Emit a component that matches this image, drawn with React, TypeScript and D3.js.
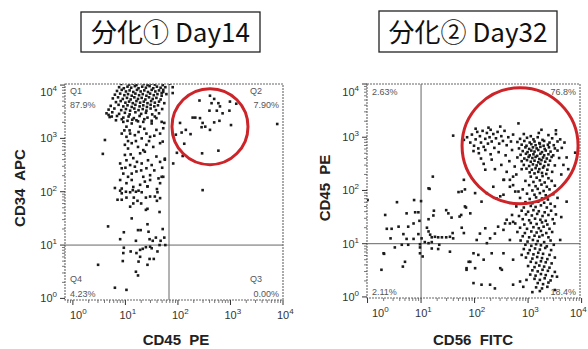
import * as d3 from 'd3';

type Pt = [number, number];

// all values are log10 of fluorescence intensity: [x, y]

// Day14: CD45 PE (x) vs CD34 APC (y)
const day14Top: Pt[] = [
  [0.92, 4.02], [1.0, 4.04], [1.07, 4.01], [1.14, 4.03], [1.21, 4.0], [1.28, 4.04], [1.35, 4.02], [1.42, 4.0], [1.49, 4.03], [1.56, 4.01], [1.63, 4.04], [1.71, 4.0], [1.85, 4.03],
  [0.88, 3.96], [0.97, 3.94], [1.04, 3.97], [1.11, 3.95], [1.18, 3.98], [1.25, 3.94], [1.32, 3.97], [1.39, 3.95], [1.46, 3.98], [1.53, 3.94], [1.6, 3.97], [1.67, 3.95], [1.76, 3.96],
  [0.84, 3.89], [0.93, 3.91], [1.01, 3.88], [1.08, 3.9], [1.15, 3.87], [1.22, 3.91], [1.29, 3.88], [1.36, 3.9], [1.43, 3.87], [1.5, 3.91], [1.57, 3.88], [1.64, 3.9], [1.72, 3.87],
  [0.8, 3.82], [0.9, 3.84], [0.98, 3.81], [1.05, 3.83], [1.12, 3.8], [1.19, 3.84], [1.26, 3.81], [1.33, 3.83], [1.4, 3.8], [1.47, 3.84], [1.54, 3.81], [1.61, 3.83], [1.69, 3.8], [1.78, 3.83],
  [0.76, 3.75], [0.86, 3.77], [0.95, 3.74], [1.03, 3.76], [1.1, 3.73], [1.17, 3.77], [1.24, 3.74], [1.31, 3.76], [1.38, 3.73], [1.45, 3.77], [1.52, 3.74], [1.59, 3.76], [1.67, 3.73],
  [0.82, 3.68], [0.91, 3.7], [1.0, 3.67], [1.07, 3.69], [1.14, 3.66], [1.21, 3.7], [1.28, 3.67], [1.35, 3.69], [1.42, 3.66], [1.49, 3.7], [1.56, 3.67], [1.64, 3.69], [1.74, 3.66],
  [0.72, 3.61], [0.87, 3.63], [0.96, 3.6], [1.04, 3.62], [1.12, 3.59], [1.19, 3.63], [1.27, 3.6], [1.34, 3.62], [1.41, 3.59], [1.48, 3.63], [1.55, 3.6], [1.62, 3.62],
  [0.68, 3.54], [0.79, 3.56], [0.92, 3.53], [1.01, 3.55], [1.09, 3.52], [1.17, 3.56], [1.25, 3.53], [1.33, 3.55], [1.4, 3.52], [1.48, 3.56], [1.58, 3.53], [1.7, 3.55],
  [0.64, 3.47], [0.75, 3.49], [0.88, 3.46], [0.99, 3.48], [1.08, 3.45], [1.19, 3.49], [1.3, 3.46], [1.39, 3.48], [1.51, 3.45], [1.64, 3.47],
  [0.7, 3.4], [0.84, 3.42], [0.96, 3.39], [1.06, 3.41], [1.16, 3.38], [1.27, 3.42], [1.42, 3.39], [1.56, 3.41],
  [0.82, 3.34], [0.93, 3.36], [1.04, 3.33], [1.13, 3.35], [1.24, 3.32], [1.36, 3.36], [1.5, 3.33],
];

const day14Tail: Pt[] = [
  [0.96, 3.31], [1.02, 3.22], [1.12, 3.28], [1.21, 3.34], [1.34, 3.31], [1.5, 3.28], [1.59, 3.38], [1.69, 3.31],
  [0.93, 3.09], [1.02, 3.03], [1.09, 3.09], [1.18, 3.06], [1.31, 3.0], [1.4, 3.09], [1.47, 3.03], [1.59, 3.16], [1.66, 3.09], [1.72, 3.19],
  [0.99, 2.88], [1.05, 2.81], [1.12, 2.91], [1.24, 2.84], [1.34, 2.78], [1.4, 2.88], [1.53, 2.84], [1.66, 2.91],
  [0.99, 2.69], [1.02, 2.59], [1.15, 2.63], [1.28, 2.72], [1.37, 2.75], [1.43, 2.59], [1.59, 2.66],
  [0.9, 2.53], [0.93, 2.44], [1.09, 2.5], [1.18, 2.47], [1.31, 2.53], [1.4, 2.44], [1.5, 2.5], [1.66, 2.56],
  [0.96, 2.34], [1.05, 2.28], [1.12, 2.34], [1.21, 2.38], [1.34, 2.28], [1.47, 2.31], [1.63, 2.25], [1.69, 2.28],
  [0.9, 2.22], [1.02, 2.16], [1.12, 2.22], [1.15, 2.09], [1.28, 2.13], [1.37, 2.19], [1.47, 2.22], [0.93, 2.06], [1.66, 2.16],
  [1.08, 3.15], [1.25, 3.12], [1.36, 3.18], [1.55, 3.05], [1.2, 2.95], [1.45, 2.95], [1.1, 2.7], [1.22, 2.56], [1.55, 2.4],
  [1.3, 2.4], [1.0, 2.45], [1.42, 2.1], [1.6, 2.05], [1.25, 2.02], [1.7, 2.45], [1.75, 2.62], [1.05, 2.95], [0.98, 3.15], [1.28, 3.22],
  [0.61, 2.97], [0.57, 2.71], [0.74, 3.41], [0.68, 3.44],
  [1.72, 3.91], [1.69, 3.85], [1.74, 3.29], [1.71, 2.94], [1.75, 2.6], [1.72, 2.28],
];

const day14Low: Pt[] = [
  [0.8, 2.07], [0.9, 2.02], [0.93, 1.97], [1.01, 2.0], [1.09, 1.99], [1.14, 2.03], [1.2, 2.0], [1.31, 1.99], [1.42, 2.1], [1.61, 1.99],
  [0.85, 1.85], [0.93, 1.85], [1.02, 1.89], [1.16, 1.89], [1.23, 1.83], [1.39, 1.89], [1.47, 1.91], [1.56, 1.91], [1.6, 1.83], [1.66, 1.88],
  [1.09, 1.72], [1.15, 1.78], [1.3, 1.78], [1.39, 1.66], [1.42, 1.68], [1.65, 1.62], [1.12, 1.5],
  [0.67, 1.35], [0.9, 1.11], [0.97, 1.24], [1.2, 1.08], [1.24, 1.28], [1.29, 1.28], [1.42, 1.39], [1.44, 1.25], [1.46, 1.11],
  [1.58, 1.14], [1.71, 1.3], [1.74, 1.14], [1.67, 1.08], [1.52, 1.08],
  [0.97, 0.95], [0.96, 0.85], [1.1, 0.88], [1.28, 0.91], [1.33, 0.93], [1.39, 0.96], [1.47, 0.97], [1.5, 0.94], [1.65, 1.0],
  [1.61, 0.88], [1.76, 1.0], [1.21, 0.85], [1.28, 0.78], [1.46, 0.74], [1.54, 0.74], [0.95, 0.7], [1.25, 0.69], [1.42, 0.63],
  [0.48, 0.63], [1.2, 0.5], [1.24, 0.43], [0.8, 0.2], [1.02, 0.16],
];

const day14Q2: Pt[] = [
  [1.9, 3.96], [1.9, 3.85], [2.41, 3.71], [2.61, 3.8], [2.69, 3.74], [2.64, 3.66], [2.77, 3.66], [2.8, 3.6], [2.99, 3.69],
  [3.11, 3.65], [2.6, 3.52], [2.74, 3.52], [2.85, 3.47], [2.98, 3.52], [2.28, 3.39], [2.33, 3.39], [2.42, 3.38], [2.04, 3.29],
  [2.47, 3.29], [2.45, 3.21], [2.52, 3.22], [2.69, 3.3], [2.79, 3.33], [3.01, 3.25], [2.61, 3.16], [2.15, 3.16], [2.07, 3.11],
  [2.24, 3.08], [1.96, 3.07], [2.12, 2.9], [1.98, 2.73], [2.09, 2.67], [2.46, 2.72], [2.77, 2.77], [3.89, 3.27], [1.91, 2.53],
  [2.47, 2.03],
];

// Day32: CD56 FITC (x) vs CD45 PE (y)
const day32Core: Pt[] = [
  [2.92, 3.06], [3.05, 3.02], [3.2, 3.08], [3.38, 3.04], [3.52, 3.06],
  [2.85, 2.97], [2.98, 2.99], [3.1, 2.96], [3.18, 3.0], [3.27, 2.95], [3.45, 2.98], [3.6, 2.96],
  [2.8, 2.91], [2.93, 2.93], [3.03, 2.9], [3.12, 2.92], [3.21, 2.89], [3.3, 2.93], [3.4, 2.9], [3.55, 2.92],
  [2.88, 2.86], [2.97, 2.84], [3.06, 2.87], [3.14, 2.85], [3.22, 2.88], [3.29, 2.84], [3.37, 2.86], [3.48, 2.85],
  [2.83, 2.79], [2.95, 2.81], [3.02, 2.78], [3.09, 2.81], [3.16, 2.79], [3.23, 2.82], [3.31, 2.78], [3.39, 2.81], [3.5, 2.79], [3.63, 2.8],
  [2.9, 2.74], [2.99, 2.72], [3.06, 2.75], [3.12, 2.73], [3.19, 2.76], [3.26, 2.72], [3.33, 2.75], [3.42, 2.73], [3.55, 2.75],
  [2.86, 2.67], [2.96, 2.69], [3.03, 2.66], [3.1, 2.68], [3.17, 2.65], [3.23, 2.69], [3.3, 2.66], [3.38, 2.68], [3.47, 2.66],
  [2.8, 2.62], [2.93, 2.6], [3.01, 2.63], [3.08, 2.61], [3.14, 2.63], [3.21, 2.59], [3.28, 2.62], [3.35, 2.6], [3.44, 2.63], [3.58, 2.61],
  [2.88, 2.55], [2.98, 2.57], [3.05, 2.54], [3.12, 2.56], [3.19, 2.53], [3.25, 2.57], [3.32, 2.54], [3.41, 2.56],
  [2.92, 2.48], [3.02, 2.46], [3.09, 2.49], [3.16, 2.47], [3.23, 2.5], [3.3, 2.46], [3.38, 2.48], [3.5, 2.47],
  [2.97, 2.41], [3.07, 2.39], [3.14, 2.42], [3.21, 2.4], [3.28, 2.43], [3.36, 2.39],
  [3.03, 2.34], [3.12, 2.32], [3.19, 2.35], [3.26, 2.33], [3.34, 2.31], [3.45, 2.35],
];

const day32Column: Pt[] = [
  [3.05, 2.26], [3.16, 2.24], [3.27, 2.27], [3.38, 2.23],
  [2.95, 2.18], [3.1, 2.16], [3.22, 2.19], [3.31, 2.15], [3.44, 2.18],
  [3.02, 2.1], [3.14, 2.08], [3.25, 2.11], [3.35, 2.07], [3.5, 2.09],
  [2.9, 2.02], [3.08, 2.0], [3.18, 2.03], [3.29, 1.99], [3.4, 2.02],
  [2.98, 1.94], [3.12, 1.92], [3.22, 1.95], [3.33, 1.91], [3.47, 1.93],
  [2.85, 1.86], [3.03, 1.84], [3.15, 1.87], [3.26, 1.85], [3.37, 1.83], [3.55, 1.86],
  [2.95, 1.78], [3.08, 1.76], [3.19, 1.79], [3.3, 1.77], [3.42, 1.75],
  [2.78, 1.7], [2.92, 1.68], [3.05, 1.71], [3.14, 1.69], [3.24, 1.72], [3.35, 1.68], [3.5, 1.7],
  [2.88, 1.62], [3.0, 1.6], [3.1, 1.63], [3.2, 1.61], [3.31, 1.59], [3.43, 1.62],
  [2.7, 1.54], [2.83, 1.52], [2.96, 1.55], [3.07, 1.53], [3.17, 1.56], [3.27, 1.52], [3.38, 1.54], [3.52, 1.55],
  [2.9, 1.46], [3.02, 1.44], [3.13, 1.47], [3.23, 1.45], [3.33, 1.43], [3.46, 1.46],
  [2.76, 1.38], [2.93, 1.36], [3.05, 1.39], [3.16, 1.37], [3.26, 1.4], [3.36, 1.36], [3.49, 1.38],
  [2.85, 1.3], [2.98, 1.28], [3.1, 1.31], [3.2, 1.29], [3.29, 1.32], [3.4, 1.28],
  [2.8, 1.22], [2.94, 1.2], [3.06, 1.23], [3.16, 1.21], [3.24, 1.24], [3.34, 1.2], [3.45, 1.22],
  [2.9, 1.14], [3.02, 1.12], [3.12, 1.15], [3.21, 1.13], [3.27, 1.16], [3.38, 1.12],
  [2.86, 1.06], [2.99, 1.04], [3.09, 1.07], [3.18, 1.05], [3.3, 1.03], [3.42, 1.06],
  [2.95, 0.98], [3.06, 0.96], [3.15, 0.99], [3.24, 0.97], [3.35, 0.95], [3.48, 0.98],
  [2.92, 0.9], [3.03, 0.88], [3.13, 0.91], [3.22, 0.89], [3.32, 0.92], [3.43, 0.88],
  [3.0, 0.82], [3.1, 0.8], [3.19, 0.83], [3.28, 0.81], [3.4, 0.79],
  [2.96, 0.74], [3.08, 0.72], [3.17, 0.75], [3.26, 0.73], [3.36, 0.71], [3.5, 0.74],
  [3.05, 0.66], [3.15, 0.64], [3.24, 0.67], [3.33, 0.65], [3.44, 0.63],
  [3.0, 0.58], [3.12, 0.56], [3.21, 0.59], [3.3, 0.57], [3.4, 0.55],
  [3.08, 0.5], [3.18, 0.48], [3.27, 0.51], [3.37, 0.49], [3.5, 0.47],
  [3.04, 0.42], [3.14, 0.4], [3.24, 0.43], [3.33, 0.41], [3.45, 0.39],
  [3.12, 0.34], [3.22, 0.32], [3.31, 0.35], [3.42, 0.31],
  [3.18, 0.26], [3.28, 0.24], [3.38, 0.27],
  [3.15, 0.18], [3.26, 0.16], [3.36, 0.19],
  [3.08, 0.09], [3.22, 0.11],
];

const day32Shoulder: Pt[] = [
  [1.8, 2.95], [1.86, 3.0], [1.92, 2.9], [1.95, 3.05], [1.99, 2.84], [2.02, 2.96], [2.05, 3.1], [2.07, 2.79], [2.1, 3.02],
  [2.12, 2.9], [2.15, 3.12], [2.17, 2.82], [2.2, 2.97], [2.23, 3.08], [2.25, 2.88], [2.28, 3.0], [2.3, 3.14], [2.32, 2.92],
  [2.35, 3.06], [2.37, 2.8], [2.4, 2.98], [2.43, 3.1], [2.46, 2.88], [2.5, 3.02], [2.53, 2.93], [2.56, 3.12], [2.6, 2.85],
  [2.63, 3.0], [2.68, 2.92], [2.72, 3.05], [1.98, 2.74], [2.08, 2.7], [2.2, 2.76], [2.3, 2.68], [2.45, 2.72], [2.58, 2.66],
  [2.7, 2.76], [2.02, 3.16], [2.26, 3.18], [2.48, 3.2], [2.12, 2.6], [2.17, 2.5], [2.32, 2.58], [2.5, 2.48], [2.65, 2.55],
  [2.75, 2.45], [2.38, 2.4], [2.6, 2.35],
];

const day32Scatter: Pt[] = [
  [2.82, 3.26], [3.25, 3.14], [3.52, 3.13], [3.68, 2.9], [3.72, 2.62], [3.88, 2.71], [3.66, 2.48], [3.75, 2.4], [3.62, 2.3],
  [2.66, 2.2], [2.78, 2.3], [2.55, 2.2], [2.72, 2.1], [2.88, 2.4], [1.6, 3.03], [1.8, 2.2], [2.2, 2.39], [2.35, 2.07],
  [2.48, 1.89], [2.13, 1.79], [3.72, 1.79], [3.62, 1.5], [3.6, 1.07], [3.54, 0.38], [3.5, 0.13],
  [1.76, 1.98], [2.23, 1.95], [2.41, 1.85], [2.54, 1.92], [2.76, 1.98], [2.01, 1.95], [2.54, 2.2], [2.66, 2.07], [2.82, 1.98], [2.72, 2.26],
  [0.0, 1.82], [0.55, 1.78], [0.87, 1.82], [0.33, 1.54], [0.73, 1.57], [0.89, 1.59], [0.95, 1.59], [0.86, 1.38], [0.97, 1.43],
  [0.58, 1.32], [0.76, 1.32], [0.36, 1.28], [0.45, 1.28], [0.67, 1.18], [0.95, 1.18], [0.43, 1.1], [0.73, 1.09], [0.86, 1.09],
  [1.0, 1.8], [1.16, 2.03], [1.7, 1.97], [1.84, 1.68], [1.24, 1.62], [1.23, 1.53], [1.47, 1.63], [1.51, 1.57], [1.57, 1.49],
  [1.72, 1.51], [1.75, 1.54], [1.14, 1.46], [1.11, 1.3], [1.14, 1.23], [1.17, 1.17], [1.01, 1.1], [1.2, 1.12], [1.26, 1.13],
  [1.32, 1.12], [1.39, 1.12], [1.47, 1.12], [1.54, 1.13], [1.59, 1.2], [1.6, 1.1], [1.76, 1.3], [1.8, 1.2], [1.07, 1.03],
  [1.14, 1.01], [1.2, 1.03], [1.22, 2.26], [1.14, 2.04], [1.82, 2.02],
  [1.82, 1.7], [1.92, 1.57], [2.1, 1.19], [2.2, 1.29], [2.04, 1.07], [2.29, 1.1], [2.38, 1.19], [2.44, 1.32], [2.54, 1.26],
  [2.57, 1.38], [2.6, 1.45], [2.66, 1.38], [2.72, 1.41], [1.98, 0.82], [2.07, 0.79], [2.17, 0.7], [1.92, 0.66], [1.85, 0.54],
  [2.01, 0.54], [2.51, 0.51], [2.72, 0.7], [2.88, 0.79], [2.13, 0.23], [2.29, 0.23], [2.38, 0.16], [2.72, 0.23], [2.91, 0.19],
  [2.97, 0.32], [2.23, 1.01], [2.32, 0.82], [2.48, 0.54], [2.54, 0.82], [2.66, 1.07], [1.98, 0.26], [2.85, 0.29],
  [0.64, 0.98], [0.76, 0.98], [0.98, 0.99], [0.51, 0.93], [0.98, 0.93], [0.3, 0.82], [0.31, 0.81], [0.98, 0.82], [0.7, 0.66],
  [0.66, 0.57], [0.26, 0.51], [1.03, 0.76], [1.2, 0.91], [1.32, 0.9], [1.54, 0.85], [1.34, 0.98], [1.89, 0.66], [1.85, 0.51],
];

const decades = [0, 1, 2, 3, 4];
const day14Quads = [['Q1', '87.9%'], ['Q2', '7.90%'], ['Q3', '0.00%'], ['Q4', '4.23%']];
const day32Quads = [['', '2.63%'], ['', '76.8%'], ['', '18.4%'], ['', '2.11%']];

const sans = '"Liberation Sans", Arial, sans-serif';

interface PanelProps {
  id: string;
  title: string;
  box: [number, number, number, number];
  frame: { left: number; right: number; top: number; bottom: number };
  xExp: [number, number];
  yExp: [number, number];
  points: Pt[];
  gate: Pt;
  ring: [number, number, number];
  quads: string[][];
  xLabel: string;
  yLabel: string;
  yLabelX: number;
  xLabelX: number;
}

function Panel(p: PanelProps) {
  const { left, right, top, bottom } = p.frame;
  const x = d3.scaleLog().domain(p.xExp.map(e => 10 ** e)).range([left, right]);
  const y = d3.scaleLog().domain(p.yExp.map(e => 10 ** e)).range([bottom, top]);

  const minors = (exp: [number, number]) => {
    const out: number[] = [];
    for (let e = Math.floor(exp[0]); e <= Math.ceil(exp[1]); e++) {
      for (let m = 2; m <= 9; m++) {
        const v = m * 10 ** e;
        if (Math.log10(v) >= exp[0] && Math.log10(v) <= exp[1]) out.push(v);
      }
    }
    return out;
  };
  const majX = decades.filter(e => e >= p.xExp[0] - 0.02 && e <= p.xExp[1] + 0.05);
  const majY = decades.filter(e => e >= p.yExp[0] - 0.02 && e <= p.yExp[1] + 0.05);
  const [bx, by, bw, bh] = p.box;
  const gx = x(10 ** p.gate[0]);
  const gy = y(10 ** p.gate[1]);

  return (
    <g>
      <rect x={bx} y={by} width={bw} height={bh} fill="#fff" stroke="#222" strokeWidth={1.3} />
      <text x={bx + bw / 2} y={by + bh - 10} textAnchor="middle" fontSize={26}
        fontFamily='"Noto Sans CJK JP", "Noto Sans", sans-serif' fill="#111">{p.title}</text>

      <clipPath id={p.id}>
        <rect x={left} y={top} width={right - left} height={bottom - top} />
      </clipPath>

      <line x1={gx} x2={gx} y1={top} y2={bottom} stroke="#555" strokeWidth={0.9} />
      <line x1={left} x2={right} y1={gy} y2={gy} stroke="#555" strokeWidth={0.9} />

      <g clipPath={`url(#${p.id})`} fill="#1b1b1b">
        {p.points.map((d, i) => (
          <rect key={i} x={x(10 ** d[0]) - 1.3} y={y(10 ** d[1]) - 1.3} width={2.6} height={2.6} />
        ))}
      </g>

      <rect x={left} y={top} width={right - left} height={bottom - top} fill="none" stroke="#666" strokeWidth={1.1} strokeDasharray="2 1" />

      <circle cx={x(10 ** p.ring[0])} cy={y(10 ** p.ring[1])} r={p.ring[2]} fill="none" stroke="#cc2428" strokeWidth={3} />

      {majY.map(e => (
        <line key={'ym' + e} x1={left - 5} x2={left} y1={y(10 ** e)} y2={y(10 ** e)} stroke="#333" />
      ))}
      {minors(p.yExp).map(v => (
        <line key={'yn' + v} x1={left - 3} x2={left} y1={y(v)} y2={y(v)} stroke="#555" strokeWidth={0.8} />
      ))}
      {majX.map(e => (
        <line key={'xm' + e} x1={x(10 ** e)} x2={x(10 ** e)} y1={bottom} y2={bottom + 5} stroke="#333" />
      ))}
      {minors(p.xExp).map(v => (
        <line key={'xn' + v} x1={x(v)} x2={x(v)} y1={bottom} y2={bottom + 3} stroke="#555" strokeWidth={0.8} />
      ))}

      {majY.map(e => (
        <text key={'yl' + e} x={left - 8} y={Math.max(y(10 ** e) + 4, top + 12)} textAnchor="end"
          fontSize={11} fontFamily={sans} fill="#333">
          10<tspan dy={-5} fontSize={8}>{e}</tspan>
        </text>
      ))}
      {majX.map(e => (
        <text key={'xl' + e} x={Math.min(Math.max(x(10 ** e) - 6, left + 5), 570)} y={bottom + 19}
          fontSize={11} fontFamily={sans} fill="#333">
          10<tspan dy={-5} fontSize={8}>{e}</tspan>
        </text>
      ))}

      {/* quadrant labels: UL, UR, LR, LL */}
      <g fontSize={9} fontFamily={sans} fill="#555">
        <text x={left + 5} y={top + 10}>{p.quads[0][0]}</text>
        <text x={left + 5} y={top + (p.quads[0][0] ? 24 : 11)}>{p.quads[0][1]}</text>
        <text x={right - 33} y={top + 10}>{p.quads[1][0]}</text>
        <text x={right - 4} y={top + (p.quads[1][0] ? 24 : 11)} textAnchor="end">{p.quads[1][1]}</text>
        <text x={right - 33} y={bottom - 18}>{p.quads[2][0]}</text>
        <text x={right - 4} y={bottom - 3} textAnchor="end">{p.quads[2][1]}</text>
        <text x={left + 5} y={bottom - 18}>{p.quads[3][0]}</text>
        <text x={left + 5} y={bottom - 3}>{p.quads[3][1]}</text>
      </g>

      <text x={p.xLabelX} y={345} textAnchor="middle" fontSize={15} fontWeight="bold" fontFamily={sans}
        fill="#222" style={{ whiteSpace: 'pre' }}>{p.xLabel}</text>
      <text transform={`translate(${p.yLabelX},188) rotate(-90)`} textAnchor="middle" fontSize={15}
        fontWeight="bold" fontFamily={sans} fill="#222" style={{ whiteSpace: 'pre' }}>{p.yLabel}</text>
    </g>
  );
}

export default function App() {
  return (
    <div style={{ position: 'absolute', left: 0, top: 0 }}>
      <svg width={588} height={349} style={{ display: 'block', background: '#fff' }}>
        <Panel
          id="clip14"
          title="分化① Day14"
          box={[81, 12, 179, 40]}
          frame={{ left: 65, right: 283, top: 84, bottom: 300 }}
          xExp={[-0.15, 4.0]}
          yExp={[-0.03, 4.02]}
          points={[...day14Top, ...day14Tail, ...day14Low, ...day14Q2]}
          gate={[1.83, 1.0]}
          ring={[2.61, 3.22, 38]}
          quads={day14Quads}
          xLabel="CD45  PE"
          yLabel="CD34  APC"
          yLabelX={25}
          xLabelX={176}
        />
        <Panel
          id="clip32"
          title="分化② Day32"
          box={[379, 11, 178, 41]}
          frame={{ left: 367, right: 580, top: 84, bottom: 298 }}
          xExp={[-0.01, 3.97]}
          yExp={[-0.02, 4.0]}
          points={[...day32Core, ...day32Column, ...day32Shoulder, ...day32Scatter]}
          gate={[1.0, 1.0]}
          ring={[2.85, 2.84, 58]}
          quads={day32Quads}
          xLabel="CD56  FITC"
          yLabel="CD45  PE"
          yLabelX={330}
          xLabelX={473}
        />
      </svg>
    </div>
  );
}
